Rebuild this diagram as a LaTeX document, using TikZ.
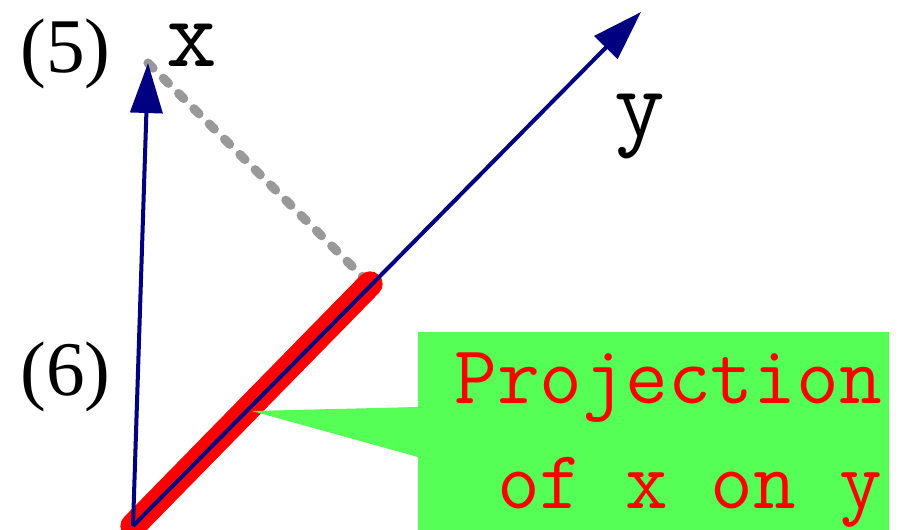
\documentclass[tikz,border=0pt]{standalone}
\usepackage{fontspec}
\setmainfont{Liberation Serif}
\usetikzlibrary{arrows.meta}
\definecolor{navy}{RGB}{0,0,128}
\definecolor{notegreen}{RGB}{85,255,85}
\definecolor{dotgray}{RGB}{153,153,153}

\begin{document}
\begin{tikzpicture}[x=0.025cm, y=-0.025cm,
        vec/.style={navy, line width=2.85pt, -{Triangle[length=1.25cm, width=0.8cm]}},
        num/.style={inner sep=0pt, anchor=base west, font=\fontsize{55}{60}\selectfont},
        lbl/.style={inner sep=0pt, anchor=base, font=\ttfamily\fontsize{70}{80}\selectfont},
        note/.style={inner sep=0pt, anchor=base east, red, font=\ttfamily\fontsize{59}{60}\selectfont}
    ]
    \useasboundingbox (0,0) rectangle (899,529);

    \coordinate (o) at (133,526);
    \coordinate (xt) at (148,63);
    \coordinate (yt) at (641,12);
    \coordinate (p) at (370,284);
    \coordinate (tip) at (252,411);

    \node[num] (n5) at (20,72) {(5)};
    \node[num] (n6) at (20,395) {(6)};
    \node[lbl] (xl) at (192,66) {x};
    \node[lbl] (yl) at (640,136) {y};

    \draw[dotgray, line width=6.5pt, line cap=round, dash pattern=on 0.18cm off 0.36cm] (xt) -- (p);
    \draw[red, line width=18pt, line cap=round] (o) -- (p);

    % callout box
    \fill[notegreen] (418,332) -- (889,332) -- (889,540) -- (418,540) -- (418,457) -- (tip) -- (418,407) -- cycle;
    \node[note] (proj1) at (882,403) {Projection};
    \node[note] (proj2) at (882,508) {of x on y};

    \draw[vec] (o) -- (xt);
    \draw[vec] (o) -- (yt);

\end{tikzpicture}
\end{document}
